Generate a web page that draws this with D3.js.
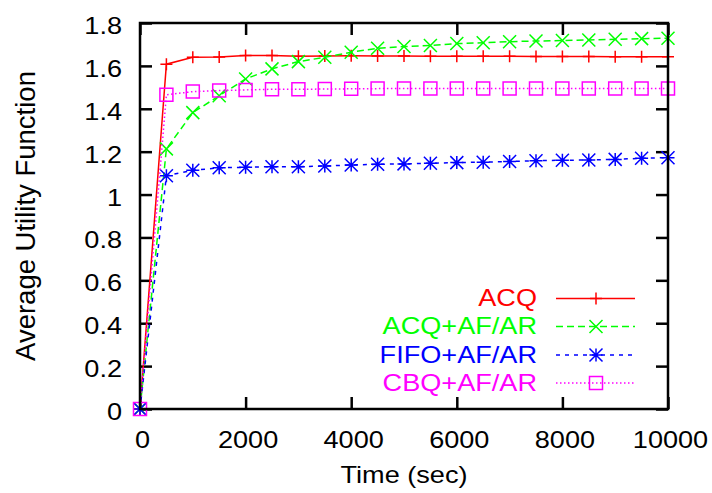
<!DOCTYPE html>
<html>
<head>
<meta charset="utf-8">
<script src="https://cdn.jsdelivr.net/npm/d3@7"></script>
<style>
  html, body { margin: 0; padding: 0; background: #fff; }
  svg { display: block; }
  text { font-family: "Liberation Sans", Arial, Helvetica, sans-serif; }
</style>
</head>
<body>
<svg id="chart" width="712" height="493"></svg>
<script>
// ---------------- data ----------------
const timeValues = [0, 500, 1000, 1500, 2000, 2500, 3000, 3500, 4000, 4500, 5000,
                    5500, 6000, 6500, 7000, 7500, 8000, 8500, 9000, 9500, 10000];
const acq      = [0, 1.608, 1.640, 1.642, 1.648, 1.648, 1.645, 1.646, 1.647, 1.646, 1.646,
                  1.645, 1.645, 1.645, 1.645, 1.644, 1.644, 1.644, 1.643, 1.643, 1.643];
const acqAfAr  = [0, 1.213, 1.382, 1.461, 1.539, 1.586, 1.620, 1.640, 1.664, 1.682, 1.690,
                  1.695, 1.704, 1.708, 1.713, 1.716, 1.718, 1.721, 1.724, 1.727, 1.729];
const fifoAfAr = [0, 1.088, 1.113, 1.125, 1.127, 1.130, 1.130, 1.133, 1.138, 1.141, 1.143,
                  1.146, 1.149, 1.151, 1.154, 1.158, 1.160, 1.161, 1.164, 1.169, 1.172];
const cbqAfAr  = [0, 1.465, 1.480, 1.485, 1.488, 1.491, 1.491, 1.492, 1.493, 1.494, 1.494,
                  1.495, 1.495, 1.495, 1.495, 1.495, 1.495, 1.495, 1.495, 1.495, 1.495];
const seriesNames = ["ACQ", "ACQ+AF/AR", "FIFO+AF/AR", "CBQ+AF/AR"];
const xTicks = [0, 2000, 4000, 6000, 8000, 10000];
const xTickLabels = ["0", "2000", "4000", "6000", "8000", "10000"];
const yTicks = [0, 0.2, 0.4, 0.6, 0.8, 1, 1.2, 1.4, 1.6, 1.8];
const yTickLabels = ["0", "0.2", "0.4", "0.6", "0.8", "1", "1.2", "1.4", "1.6", "1.8"];
const xTitle = "Time (sec)";
const yTitle = "Average Utility Function";

// ---------------- layout ----------------
const L = 140, R = 668, T = 23, B = 409;
const SX = 1.13;          // horizontal stretch of the horizontal texts
const FS = 24;

const svg = d3.select("#chart");
const x = d3.scaleLinear().domain([0, 10000]).range([L, R]);
const y = d3.scaleLinear().domain([0, 1.8]).range([B, T]);

const styles = [
  { color: "#ff0000", dash: null,    marker: "plus"  },
  { color: "#00ff00", dash: "7,4",   marker: "cross" },
  { color: "#0000ff", dash: "4,5",   marker: "star"  },
  { color: "#ff00ff", dash: "1.5,2.5", marker: "box" }
];
const markerPath = {
  plus:  "M-6,0H6M0,-6V6",
  cross: "M-6.5,-6.5L6.5,6.5M-6.5,6.5L6.5,-6.5",
  star:  "M-6.5,0H6.5M0,-6.5V6.5M-6.5,-6.5L6.5,6.5M-6.5,6.5L6.5,-6.5",
  box:   "M-6.5,-6.5H6.5V6.5H-6.5Z"
};

// ---------------- axes (inward ticks, mirrored) ----------------
const tickLen = 12;
const axisStyle = g => {
  g.select(".domain").remove();
  g.selectAll(".tick line").attr("stroke", "#000").attr("stroke-width", 2.5);
};

svg.append("g").attr("transform", `translate(0,${B})`)
  .call(d3.axisBottom(x).tickValues(xTicks).tickSize(-tickLen)
        .tickFormat((d, i) => xTickLabels[i]))
  .call(axisStyle)
  .call(g => g.selectAll(".tick text")
    .attr("y", null).attr("dy", null).attr("fill", "#000")
    .attr("font-size", FS).attr("text-anchor", "middle")
    .attr("transform", `translate(2,38.5) scale(${SX},1)`));

svg.append("g").attr("transform", `translate(0,${T})`)
  .call(d3.axisTop(x).tickValues(xTicks).tickSize(-tickLen).tickFormat(""))
  .call(axisStyle);

svg.append("g").attr("transform", `translate(${L},0)`)
  .call(d3.axisLeft(y).tickValues(yTicks).tickSize(-tickLen)
        .tickFormat((d, i) => yTickLabels[i]))
  .call(axisStyle)
  .call(g => g.selectAll(".tick text")
    .attr("x", null).attr("dy", null).attr("fill", "#000")
    .attr("font-size", FS).attr("text-anchor", "end")
    .attr("transform", `translate(-18,10.5) scale(${SX},1)`));

svg.append("g").attr("transform", `translate(${R},0)`)
  .call(d3.axisRight(y).tickValues(yTicks).tickSize(-tickLen).tickFormat(""))
  .call(axisStyle);

// ---------------- series ----------------
const allSeries = [acq, acqAfAr, fifoAfAr, cbqAfAr];
const line = d3.line().x((d, i) => x(timeValues[i])).y(d => y(d));

allSeries.forEach((vals, k) => {
  const st = styles[k];
  const g = svg.append("g");
  g.append("path").datum(vals)
    .attr("d", line).attr("fill", "none")
    .attr("stroke", st.color).attr("stroke-width", 1.5)
    .attr("stroke-dasharray", st.dash);
  g.selectAll("path.pt").data(vals).join("path").attr("class", "pt")
    .attr("transform", (d, i) => `translate(${x(timeValues[i])},${y(d)})`)
    .attr("d", markerPath[st.marker])
    .attr("fill", "none").attr("stroke", st.color).attr("stroke-width", 1.5);
});

// ---------------- border ----------------
svg.append("rect").attr("x", L).attr("y", T)
  .attr("width", R - L).attr("height", B - T)
  .attr("fill", "none").attr("stroke", "#000").attr("stroke-width", 2.5);

// ---------------- legend ----------------
const legRowBaseline = [306, 334, 362.5, 390.5];
const legTextX = 537, legX0 = 556, legX1 = 635, legMarkX = 596;
seriesNames.forEach((name, k) => {
  const st = styles[k];
  const by = legRowBaseline[k];
  const ly = by - 7.5;
  svg.append("text").text(name)
    .attr("transform", `translate(${legTextX},${by}) scale(${SX},1)`)
    .attr("text-anchor", "end").attr("font-size", FS).attr("fill", st.color);
  svg.append("line").attr("x1", legX0).attr("x2", legX1).attr("y1", ly).attr("y2", ly)
    .attr("stroke", st.color).attr("stroke-width", 1.5)
    .attr("stroke-dasharray", st.dash);
  svg.append("path").attr("transform", `translate(${legMarkX},${ly})`)
    .attr("d", markerPath[st.marker])
    .attr("fill", "none").attr("stroke", st.color).attr("stroke-width", 1.5);
});

// ---------------- titles ----------------
svg.append("text").text(xTitle)
  .attr("transform", `translate(${(L + R) / 2},483) scale(${SX},1)`)
  .attr("text-anchor", "middle").attr("font-size", FS).attr("fill", "#000");

svg.append("text").text(yTitle)
  .attr("transform", `translate(35,${(T + B) / 2}) rotate(-90)`)
  .attr("text-anchor", "middle").attr("font-size", 27.5).attr("fill", "#000");
</script>
</body>
</html>
